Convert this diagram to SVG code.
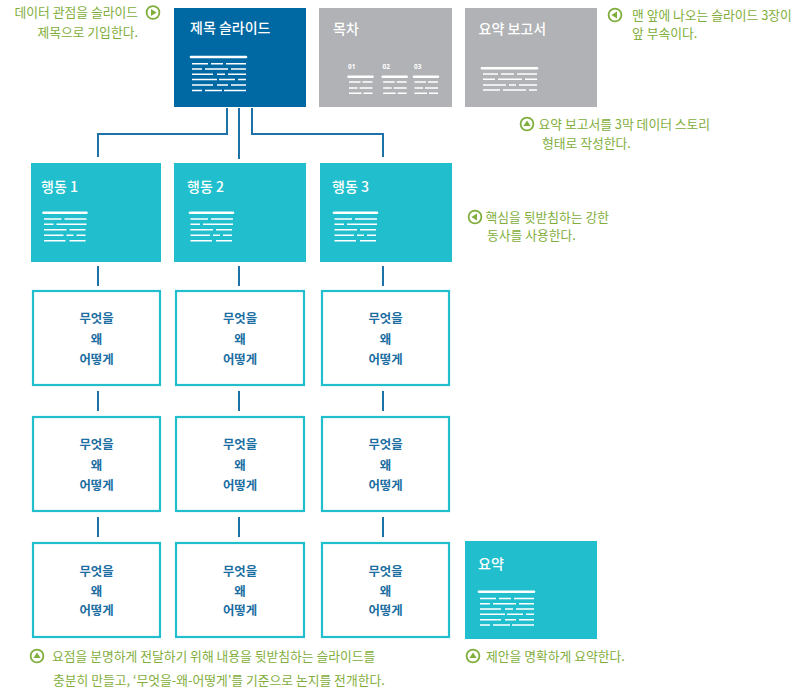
<svg xmlns="http://www.w3.org/2000/svg" xmlns:xlink="http://www.w3.org/1999/xlink" width="800" height="698" viewBox="0 0 800 698">
<style>
.note{font-family:"Noto Sans CJK KR","Noto Sans",sans-serif;font-size:12.8px;fill:#7FAE3C}
.ttl{font-family:"Noto Sans CJK KR","Noto Sans",sans-serif;font-size:14px;fill:#fff;font-weight:500}
.row{font-family:"Noto Sans CJK KR","Noto Sans",sans-serif;font-size:12.4px;fill:#1B6EA1;font-weight:700;text-anchor:middle}
.num{font-family:"Noto Sans","Liberation Sans",sans-serif;font-size:6.5px;fill:#fff;font-weight:700}
.dark{fill:#0069A4}
.gray{fill:#B0B2B5}
.teal{fill:#21BFCE}
.rbox{fill:#fff;stroke:#21BFCE;stroke-width:2.2}
.conn{fill:none;stroke:#1F72A8;stroke-width:2}
.thick{stroke:#fff;stroke-width:2.6;stroke-linecap:round;fill:none}
.thin{stroke:#fff;stroke-width:1.5;fill:none}
.ic{fill:#fff;stroke:#7FAE3C;stroke-width:1.8}
.tri{fill:#7FAE3C}
</style>
<defs>
<g id="lines6">
<path class="thick" d="M0 0H55"/>
<path class="thin" d="M1 6.7H17M20 6.7H32M35 6.7H55M1 12H11M14 12H37M40 12H55M1 17.3H22M26 17.3H34M37 17.3H55M1 22.6H26M28 22.6H44M47 22.6H55M1 28H22M26 28H37M40 28H55M1 33.4H11M14 33.4H31M33 33.4H55"/>
</g>
<g id="lines5">
<path class="thick" d="M0 0H43"/>
<path class="thin" d="M0.5 6.3H18M21 6.3H43M0.5 11.6H10M13 11.6H43M0.5 17H23M26 17H42M0.5 22.6H20M23 22.6H30M33 22.6H42M0.5 28H22M26 28H42"/>
</g>
<g id="lines4">
<path class="thick" d="M0 0H55"/>
<path class="thin" d="M1 5.7H16M19 5.7H32M35 5.7H55M1 11H13M16 11H40M43 11H55M1 16.7H24M27 16.7H34M37 16.7H55M1 21.8H18M21 21.8H44M47 21.8H55"/>
</g>
<g id="mini">
<path class="thick" d="M0 0H24"/>
<path class="thin" d="M0.5 5.3H12M14 5.3H24M0.5 11.3H9M11 11.3H24M0.5 16.6H13M15 16.6H24"/>
</g>
<g id="ico">
<circle class="ic" r="6.4"/>
<path class="tri" d="M-2 -3.6L3.6 0L-2 3.6Z"/>
</g>
</defs>

<rect width="800" height="698" fill="#fff"/>

<g id="connectors">
<path class="conn" d="M227 108V134H98V157"/>
<path class="conn" d="M239 108V159"/>
<path class="conn" d="M252 108V134H383V157"/>
<path class="conn" d="M98 266V286M98 391V411M98 517V537"/>
<path class="conn" d="M239 266V286M239 391V411M239 517V537"/>
<path class="conn" d="M383 266V286M383 391V411M383 517V537"/>
</g>

<g id="title-slide">
<rect class="dark" x="174" y="8" width="132" height="99"/>
<text class="ttl" x="190" y="32.5">제목 슬라이드</text>
<use xlink:href="#lines6" x="191" y="57"/>
</g>

<g id="toc">
<rect class="gray" x="319" y="8" width="133" height="99"/>
<text class="ttl" x="333" y="33.5">목차</text>
<text class="num" x="348" y="68.5">01</text>
<text class="num" x="382.5" y="68.5">02</text>
<text class="num" x="414" y="68.5">03</text>
<use xlink:href="#mini" x="348.5" y="76.7"/>
<use xlink:href="#mini" x="382.7" y="76.7"/>
<use xlink:href="#mini" x="414" y="76.7"/>
</g>

<g id="summary-report">
<rect class="gray" x="465" y="8" width="132" height="99"/>
<text class="ttl" x="478.5" y="33.5">요약 보고서</text>
<use xlink:href="#lines4" x="482" y="68.3"/>
</g>

<g id="action1">
<rect class="teal" x="31" y="163" width="130" height="99"/>
<text class="ttl" x="41" y="192">행동 1</text>
<use xlink:href="#lines5" x="43.5" y="212.7"/>
</g>
<g id="action2">
<rect class="teal" x="174" y="163" width="132" height="99"/>
<text class="ttl" x="187" y="192">행동 2</text>
<use xlink:href="#lines5" x="190" y="212.7"/>
</g>
<g id="action3">
<rect class="teal" x="320" y="163" width="132" height="99"/>
<text class="ttl" x="332" y="192">행동 3</text>
<use xlink:href="#lines5" x="334" y="212.7"/>
</g>

<g id="box-1-1"><rect class="rbox" x="33" y="291" width="127" height="94"/><text class="row" x="96.5" y="322.5">무엇을</text><text class="row" x="96.5" y="344">왜</text><text class="row" x="96.5" y="364">어떻게</text></g>
<g id="box-1-2"><rect class="rbox" x="176" y="291" width="128" height="94"/><text class="row" x="240" y="322.5">무엇을</text><text class="row" x="240" y="344">왜</text><text class="row" x="240" y="364">어떻게</text></g>
<g id="box-1-3"><rect class="rbox" x="322" y="291" width="127" height="94"/><text class="row" x="385.5" y="322.5">무엇을</text><text class="row" x="385.5" y="344">왜</text><text class="row" x="385.5" y="364">어떻게</text></g>

<g id="box-2-1"><rect class="rbox" x="33" y="417" width="127" height="94"/><text class="row" x="96.5" y="448.5">무엇을</text><text class="row" x="96.5" y="470">왜</text><text class="row" x="96.5" y="490">어떻게</text></g>
<g id="box-2-2"><rect class="rbox" x="176" y="417" width="128" height="94"/><text class="row" x="240" y="448.5">무엇을</text><text class="row" x="240" y="470">왜</text><text class="row" x="240" y="490">어떻게</text></g>
<g id="box-2-3"><rect class="rbox" x="322" y="417" width="127" height="94"/><text class="row" x="385.5" y="448.5">무엇을</text><text class="row" x="385.5" y="470">왜</text><text class="row" x="385.5" y="490">어떻게</text></g>

<g id="box-3-1"><rect class="rbox" x="33" y="543" width="127" height="94"/><text class="row" x="96.5" y="575.5">무엇을</text><text class="row" x="96.5" y="595.5">왜</text><text class="row" x="96.5" y="615">어떻게</text></g>
<g id="box-3-2"><rect class="rbox" x="176" y="543" width="128" height="94"/><text class="row" x="240" y="575.5">무엇을</text><text class="row" x="240" y="595.5">왜</text><text class="row" x="240" y="615">어떻게</text></g>
<g id="box-3-3"><rect class="rbox" x="322" y="543" width="127" height="94"/><text class="row" x="385.5" y="575.5">무엇을</text><text class="row" x="385.5" y="595.5">왜</text><text class="row" x="385.5" y="615">어떻게</text></g>

<g id="summary">
<rect class="teal" x="465" y="541" width="132" height="98"/>
<text class="ttl" x="478" y="569">요약</text>
<use xlink:href="#lines6" x="479" y="591.7"/>
</g>

<g id="note-title">
<text class="note" x="138" y="16.5" text-anchor="end">데이터 관점을 슬라이드</text>
<text class="note" x="138" y="37" text-anchor="end">제목으로 기입한다.</text>
<use xlink:href="#ico" transform="translate(153 12.5)"/>
</g>
<g id="note-front">
<use xlink:href="#ico" transform="translate(615 15) rotate(180)"/>
<text class="note" x="632" y="19.5">맨 앞에 나오는 슬라이드 3장이</text>
<text class="note" x="632" y="38">앞 부속이다.</text>
</g>
<g id="note-report">
<use xlink:href="#ico" transform="translate(527 124) rotate(-90)"/>
<text class="note" x="538.5" y="128.5">요약 보고서를 3막 데이터 스토리</text>
<text class="note" x="542" y="148">형태로 작성한다.</text>
</g>
<g id="note-verb">
<use xlink:href="#ico" transform="translate(475 217) rotate(180)"/>
<text class="note" x="485.5" y="221.5">핵심을 뒷받침하는 강한</text>
<text class="note" x="487" y="239.5">동사를 사용한다.</text>
</g>
<g id="note-body">
<use xlink:href="#ico" transform="translate(37 656) rotate(-90)"/>
<text class="note" x="52" y="660.5">요점을 분명하게 전달하기 위해 내용을 뒷받침하는 슬라이드를</text>
<text class="note" x="53" y="685">충분히 만들고, ‘무엇을-왜-어떻게’를 기준으로 논지를 전개한다.</text>
</g>
<g id="note-summary">
<use xlink:href="#ico" transform="translate(473 656) rotate(-90)"/>
<text class="note" x="486" y="660.5">제안을 명확하게 요약한다.</text>
</g>
</svg>
